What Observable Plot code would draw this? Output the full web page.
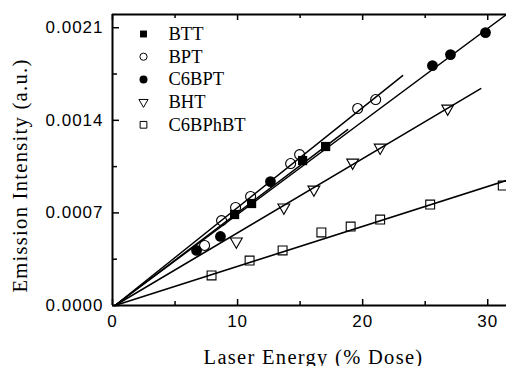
<!DOCTYPE html>
<html><head><meta charset="utf-8">
<script src="https://cdn.jsdelivr.net/npm/d3@7"></script>
<script src="https://cdn.jsdelivr.net/npm/@observablehq/plot@0.6"></script>
<style>
html,body{margin:0;padding:0;background:#fff;}
#chart svg{display:block;}
</style>
</head><body><div id="chart"></div>
<script>
// ---- data ----
const seriesNames = ["BTT", "BPT", "C6BPT", "BHT", "C6BPhBT"];

const bttX = [9.76, 11.12, 15.2, 17.04];
const bttY = [0.000688, 0.000771, 0.001096, 0.001202];

const bptX = [7.36, 8.72, 9.84, 11.04, 14.24, 14.96, 19.6, 21.04];
const bptY = [0.000454, 0.000642, 0.000741, 0.000824, 0.001073, 0.001141, 0.001489, 0.001557];

const c6bptX = [6.72, 8.63, 12.63, 25.58, 27.02, 29.82];
const c6bptY = [0.000416, 0.000522, 0.000937, 0.001814, 0.001897, 0.002063];

const bhtX = [9.9, 13.7, 16.1, 19.2, 21.4, 26.8];
const bhtY = [0.000484, 0.000741, 0.000877, 0.001081, 0.001194, 0.001489];

const c6bphbtX = [7.92, 10.96, 13.6, 16.7, 19.04, 21.4, 25.4, 31.2];
const c6bphbtY = [0.000227, 0.000340, 0.000416, 0.000552, 0.000597, 0.000650, 0.000763, 0.000907];

// linear fit lines: start and end points for each series
const fitStartX = [0.2, 0.2, 0.2, 0.2, 0.2];
const fitStartY = [0, 0, 0, 0, 0];
const fitEndX = [18.8, 23.2, 31.5, 29.44, 31.5];
const fitEndY = [0.001330, 0.001738, 0.0022, 0.001640, 0.000945];

const xDomain = [0, 31.5];
const yDomain = [0, 0.0022];
const xMajorTicks = [0, 10, 20, 30];
const xMinorTicks = [5, 15, 25];
const yMajorTicks = [0, 0.0007, 0.0014, 0.0021];
const yMinorTicks = [0.00035, 0.00105, 0.00175];
const yTickLabels = ["0.0000", "0.0007", "0.0014", "0.0021"];

const xTitle = "Laser Energy (% Dose)";
const yTitle = "Emission Intensity (a.u.)";

// ---- tables ----
const seriesXY = [[bttX, bttY], [bptX, bptY], [c6bptX, c6bptY], [bhtX, bhtY], [c6bphbtX, c6bphbtY]];
const points = seriesNames.map((s, i) => seriesXY[i][0].map((x, j) => ({series: s, x, y: seriesXY[i][1][j]})));
const fits = seriesNames.flatMap((s, i) => [
  {series: s, x: fitStartX[i], y: fitStartY[i]},
  {series: s, x: fitEndX[i], y: fitEndY[i]}
]);

// ---- styles ----
const styles = {
  "BTT":     {symbol: "square",   fill: "black", stroke: "none",  r: 5.2, rotate: 0,   lr: 3.9},
  "BPT":     {symbol: "circle",   fill: "none",  stroke: "black", r: 5.0, rotate: 0,   lr: 3.6},
  "C6BPT":   {symbol: "circle",   fill: "black", stroke: "none",  r: 5.4, rotate: 0,   lr: 4.0},
  "BHT":     {symbol: "triangle", fill: "none",  stroke: "black", r: 4.4, rotate: 180, lr: 3.4},
  "C6BPhBT": {symbol: "square",   fill: "none",  stroke: "black", r: 5.0, rotate: 0,   lr: 3.8}
};

const W = 506, H = 366, mL = 112, mT = 14, mR = 0, mB = 61;
const fw = W - mL - mR, fh = H - mT - mB;
const serif = "'Liberation Serif', 'Times New Roman', serif";
const sans = "'Liberation Sans', Arial, sans-serif";

const dotMarks = seriesNames.map((s, i) => {
  const st = styles[s];
  return Plot.dot(points[i], {
    x: "x", y: "y", symbol: st.symbol, r: st.r, fill: st.fill, stroke: st.stroke,
    strokeWidth: 1.1, rotate: st.rotate
  });
});

const legendMarks = seriesNames.flatMap((s, i) => {
  const st = styles[s];
  return [
    Plot.dot([s], {frameAnchor: "top-left", dx: 31, dy: 19.5 + 22.7 * i, symbol: st.symbol,
      r: st.lr, fill: st.fill, stroke: st.stroke, strokeWidth: 1, rotate: st.rotate}),
    Plot.text([s], {frameAnchor: "top-left", dx: 56, dy: 19.5 + 22.7 * i, text: d => d,
      textAnchor: "start", lineAnchor: "middle", fontSize: 18.5, fontFamily: serif, fill: "black"})
  ];
});

const chart = Plot.plot({
  width: W, height: H,
  marginLeft: mL, marginTop: mT, marginRight: mR, marginBottom: mB,
  style: {background: "white", color: "black"},
  x: {domain: xDomain},
  y: {domain: yDomain},
  marks: [
    // fit lines
    Plot.line(fits, {x: "x", y: "y", z: "series", stroke: "black", strokeWidth: 1.5}),
    ...dotMarks,
    // frame (left, bottom, top)
    Plot.ruleX([xDomain[0]], {stroke: "black", strokeWidth: 2}),
    Plot.ruleY([yDomain[0]], {stroke: "black", strokeWidth: 2}),
    Plot.ruleY([yDomain[1]], {stroke: "black", strokeWidth: 2}),
    // inward ticks
    Plot.ruleX(xMajorTicks, {insetTop: fh - 6, stroke: "black", strokeWidth: 1.5}),
    Plot.ruleX(xMinorTicks, {insetTop: fh - 4, stroke: "black", strokeWidth: 1.5}),
    Plot.ruleX(xMajorTicks, {insetBottom: fh - 6, stroke: "black", strokeWidth: 1.5}),
    Plot.ruleX(xMinorTicks, {insetBottom: fh - 4, stroke: "black", strokeWidth: 1.5}),
    Plot.ruleY(yMajorTicks, {insetRight: fw - 7, stroke: "black", strokeWidth: 1.5}),
    Plot.ruleY(yMinorTicks, {insetRight: fw - 5, stroke: "black", strokeWidth: 1.5}),
    // tick labels
    Plot.axisX({ticks: xMajorTicks, tickSize: 0, tickPadding: 9, fontSize: 17, fontFamily: sans, label: null, tickFormat: d => String(d)}),
    Plot.axisY({ticks: yMajorTicks, tickSize: 0, tickPadding: 9, fontSize: 17, fontFamily: sans, label: null,
      tickFormat: d => yTickLabels[yMajorTicks.indexOf(d)]}),
    // axis titles
    Plot.text([xTitle], {frameAnchor: "bottom", dx: 4, dy: 58, text: d => d, textAnchor: "middle", lineAnchor: "bottom",
      fontSize: 20.5, fontFamily: serif, fill: "black"}),
    Plot.text([yTitle], {frameAnchor: "left", dx: -86, dy: 15.5, rotate: -90, text: d => d, textAnchor: "middle", lineAnchor: "bottom",
      fontSize: 20.5, fontFamily: serif, fill: "black"}),
    ...legendMarks
  ]
});

document.getElementById("chart").appendChild(chart);
// slight letter spacing to match the reference's wide glyphs
chart.querySelectorAll('g[aria-label="x-axis tick label"] text, g[aria-label="y-axis tick label"] text')
  .forEach(t => t.style.letterSpacing = "1px");
chart.querySelectorAll('g[aria-label="text"] text').forEach(t => {
  if (t.textContent === xTitle || t.textContent === yTitle) t.style.letterSpacing = "1.3px";
});
</script>
</body></html>
